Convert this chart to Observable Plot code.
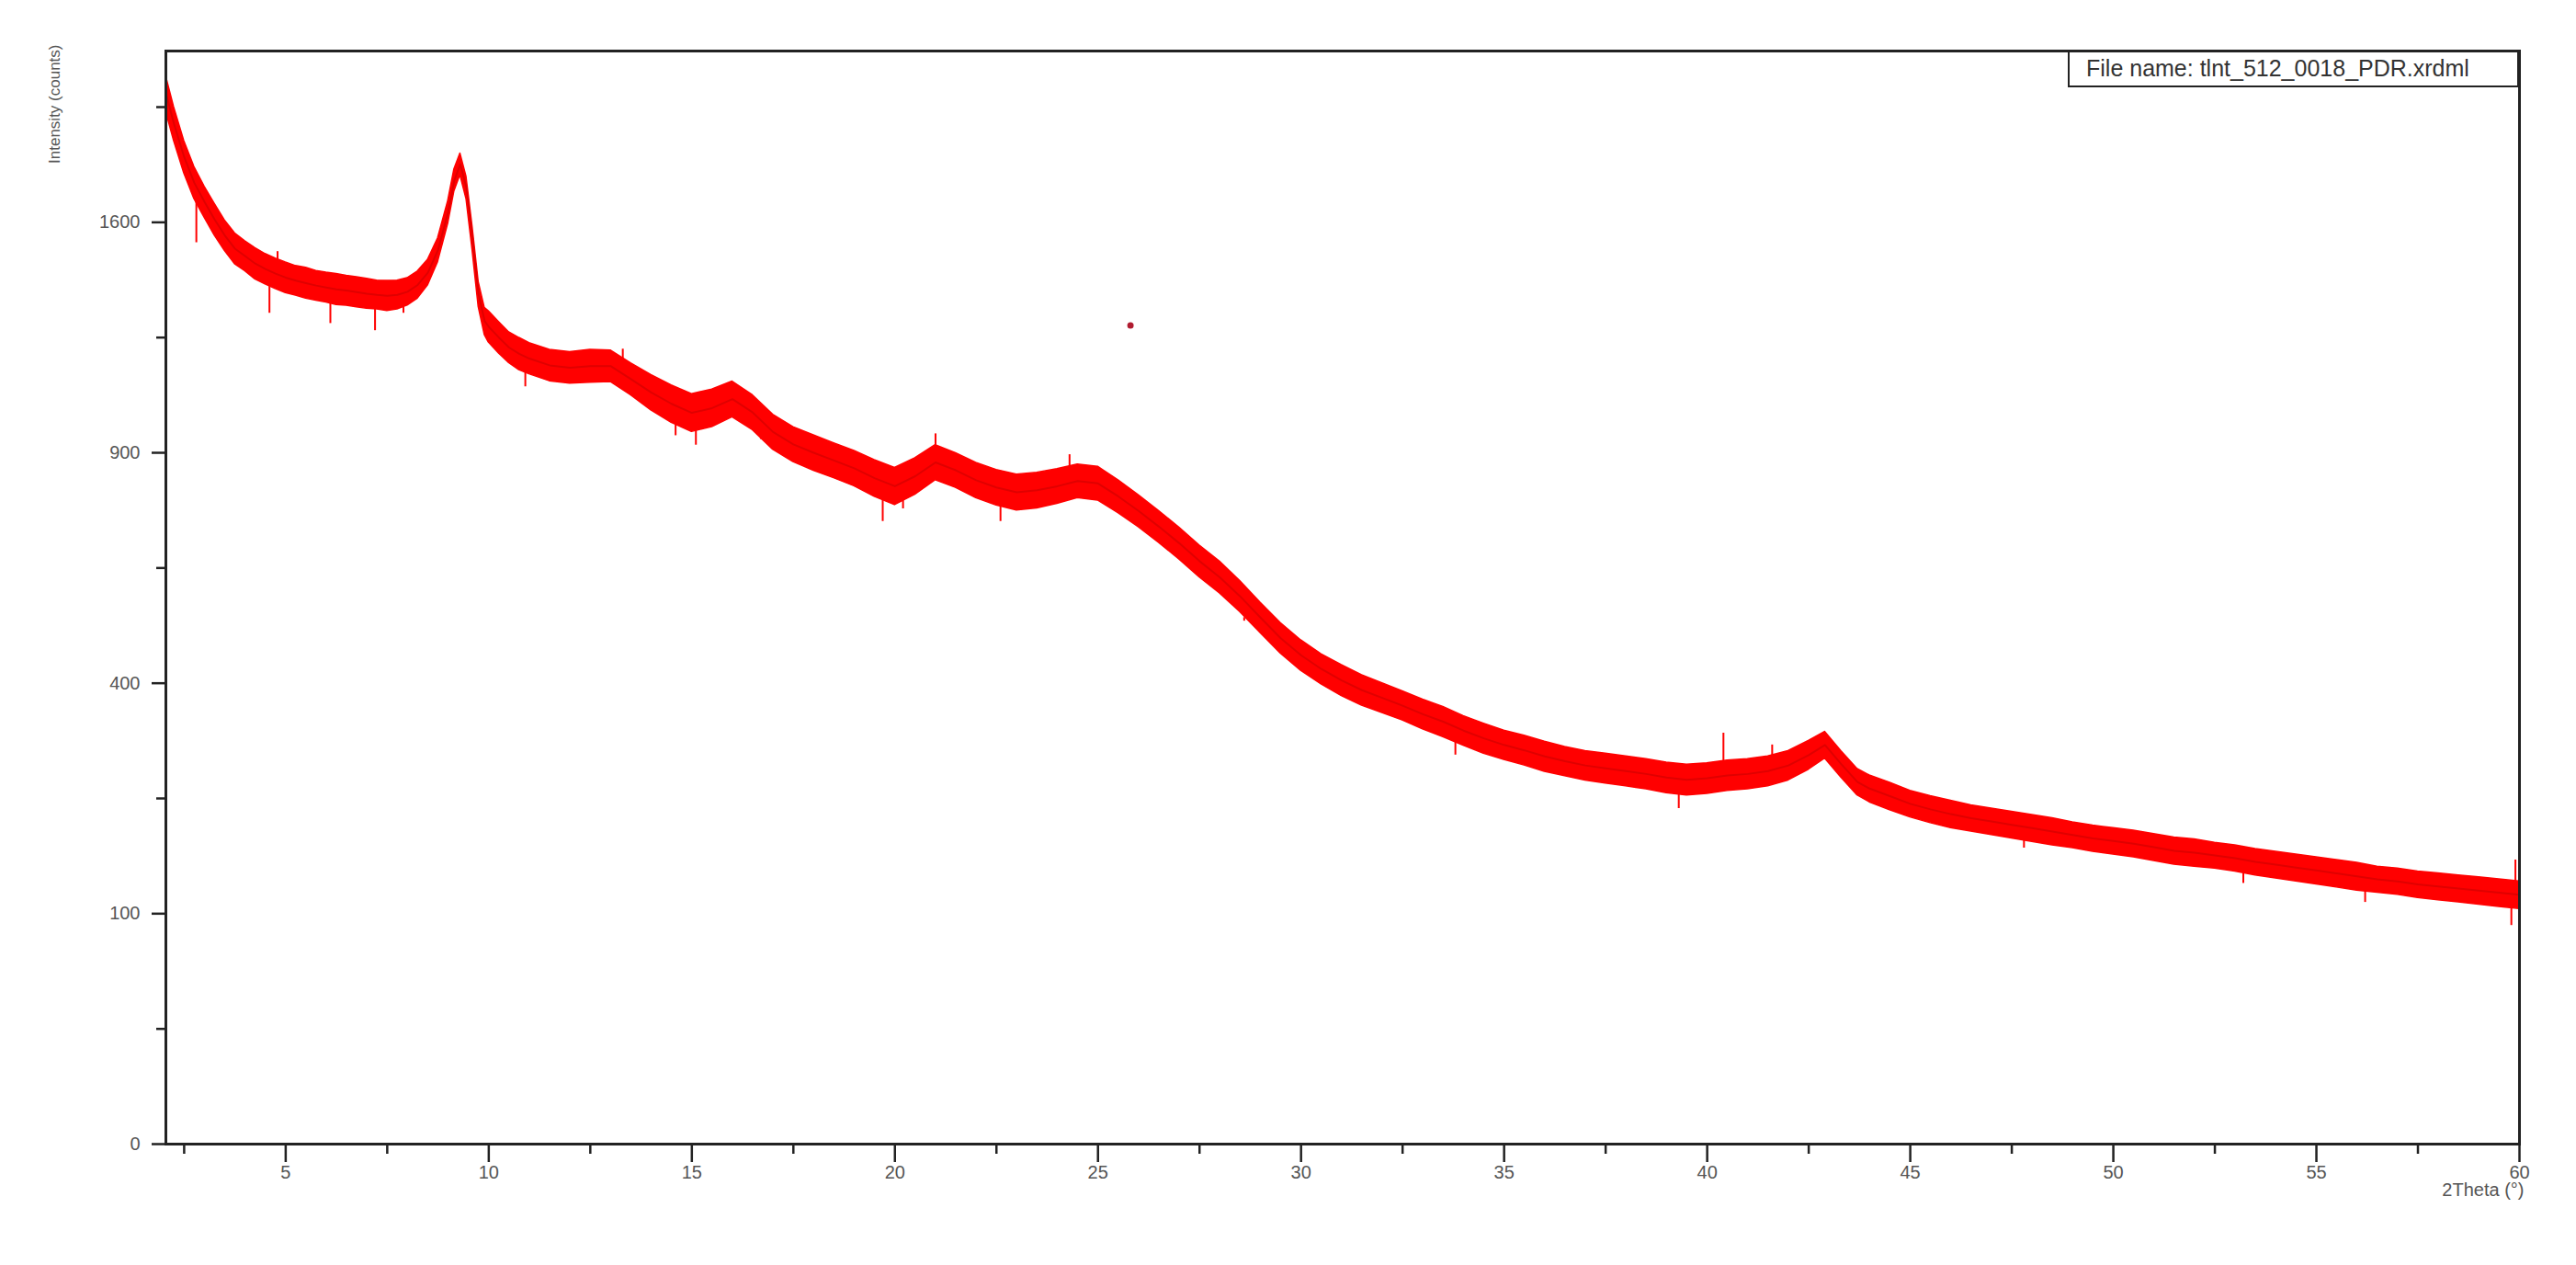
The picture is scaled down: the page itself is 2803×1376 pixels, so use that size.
<!DOCTYPE html>
<html>
<head>
<meta charset="utf-8">
<script src="https://cdn.jsdelivr.net/npm/d3@7"></script>
<script src="https://cdn.jsdelivr.net/npm/@observablehq/plot@0.6"></script>
<style>
  html, body { margin: 0; padding: 0; background: #fff; }
  #wrap { position: relative; width: 2803px; height: 1376px; }
  #legend {
    position: absolute; left: 2250px; top: 55px; width: 491px; height: 40px;
    box-sizing: border-box; border: 2.5px solid #222; background: #fff;
    font-family: "Liberation Sans", Arial, sans-serif; font-size: 25px; color: #333;
    line-height: 34px; padding-left: 18px; white-space: nowrap;
  }
</style>
</head>
<body>
<div id="wrap"><div id="legend">File name: tlnt_512_0018_PDR.xrdml</div></div>
<script>
// 2Theta positions (degrees)
const twoTheta = [2.05,2.25,2.5,2.75,3,3.25,3.5,3.75,4,4.25,4.5,4.75,5,5.25,5.5,5.75,6,6.25,6.5,6.75,7,7.25,7.5,7.75,
  8,8.25,8.5,8.75,9,9.15,9.3,9.45,9.6,9.75,9.9,10,10.25,10.5,10.75,11,11.5,12,12.5,13,13.5,14,14.5,
  15,15.5,16,16.5,17,17.5,18,18.5,19,19.5,20,20.5,21,21.5,22,22.5,23,23.5,24,24.5,25,25.5,26,26.5,27,27.5,28,28.5,29,29.5,
  30,30.5,31,31.5,32,32.5,33,33.5,34,34.5,35,35.5,36,36.5,37,37.5,38,38.5,39,39.5,40,40.5,41,41.5,42,42.5,
  42.9,43.3,43.7,
  44,44.5,45,45.5,46,46.5,47,47.5,48,48.5,49,49.5,50,50.5,51,51.5,52,52.5,53,53.5,54,54.5,55,55.5,56,56.5,57,57.5,58,58.5,59,59.5,60];
// mean intensity (counts)
const intensity = [2080,1960,1835,1740,1672,1610,1555,1510,1485,1460,1442,1427,1414,1404,1396,1388,1382,1376,1372,1367,1362,1358,1355,1358,
  1368,1390,1430,1505,1635,1748,1808,1722,1545,1360,1275,1258,1225,1195,1176,1162,1142,1135,1140,1140,1102,1064,1032,
  1007,1020,1045,1008,955,922,900,880,860,835,815,840,875,855,830,812,800,805,815,828,822,790,755,718,680,640,605,565,522,482,
  450,425,405,388,375,362,348,336,322,310,300,292,283,276,270,266,262,258,253,250,252,256,258,262,270,285,
  300,272,247,
  238,228,218,211,205,200,196,192,188,184,180,176,173,170,166,162,160,157,154,150,147,144,141,138,135,132,130,127,125,123,121,119,117];
// half-width of the noise band (counts)
const noise = [70,65,60,58,55,55,52,52,50,52,50,50,50,48,50,48,48,50,48,48,48,46,48,46,
  44,44,42,40,40,40,40,40,40,40,42,48,48,46,48,46,46,46,48,46,46,50,52,
  52,52,50,48,47,46,46,45,45,46,46,46,45,44,44,44,44,44,43,42,42,40,38,37,36,35,34,32,30,29,
  28,27,27,26,25,24,24,24,23,23,22,22,22,21,21,21,21,21,21,21,21,21,21,21,21,21,
  20,19,18,
  18,18,17,17,17,16,16,16,16,16,15,15,15,15,15,15,15,14,14,14,14,14,14,14,14,13,13,13,13,13,13,13,13];
// isolated spikes beyond the band: position, extreme count
const spikeTheta = [2.8, 4.6, 4.8, 6.1, 7.2, 7.9, 10.9, 13.3, 14.6, 15.1, 16.7, 19.7, 20.2, 21.0, 22.6, 24.3, 28.6, 33.8, 39.3, 40.4, 41.6, 47.8, 53.2, 56.2, 59.8, 59.9];
const spikeCounts = [1530, 1300, 1500, 1268, 1246, 1300, 1080, 1190, 945, 920, 935, 730, 760, 950, 730, 895, 515, 285, 212, 318, 300, 165, 128, 110, 90, 152];
// isolated point
const strayTheta = [25.8];
const strayCounts = [1262];

const yMajor = [0, 100, 400, 900, 1600];
const yMinor = [25, 225, 625, 1225, 2025];
const xMajor = [5,10,15,20,25,30,35,40,45,50,55,60];
const xMinor = [2.5,7.5,12.5,17.5,22.5,27.5,32.5,37.5,42.5,47.5,52.5,57.5];

const rows = twoTheta.map((t, i) => ({t, v: intensity[i], lo: intensity[i] - noise[i], hi: intensity[i] + noise[i]}));
const spikes = spikeTheta.map((t, i) => {
  const j = d3.bisectLeft(twoTheta, t);
  const base = intensity[Math.min(j, twoTheta.length - 1)];
  return {t, y1: base, y2: spikeCounts[i]};
});
const stray = strayTheta.map((t, i) => ({t, v: strayCounts[i]}));

const chart = Plot.plot({
  width: 2803, height: 1376,
  marginLeft: 180, marginRight: 62, marginTop: 55, marginBottom: 132,
  style: {fontFamily: "'Liberation Sans', Arial, sans-serif", fontSize: "20px", color: "#555", background: "#fff"},
  x: {domain: [2.05, 60]},
  y: {type: "sqrt", domain: [0, 2250]},
  marks: [
    Plot.areaY(rows, {x: "t", y1: "lo", y2: "hi", fill: "#ff0000", stroke: "#ff0000", strokeWidth: 1.5}),
    Plot.ruleX(spikes, {x: "t", y1: "y1", y2: "y2", stroke: "#ff0000", strokeWidth: 2}),
    Plot.lineY(rows, {x: "t", y: "v", stroke: "#e00000", strokeWidth: 2}),
    Plot.dot(stray, {x: "t", y: "v", r: 3.5, fill: "#b01c30"}),
    Plot.axisY(yMajor, {tickSize: 15, tickPadding: 13, tickFormat: d => String(d), label: null, stroke: "#222", strokeWidth: 2.5, fill: "#555"}),
    Plot.axisY(yMinor, {tickSize: 10, tickFormat: () => "", label: null, stroke: "#222", strokeWidth: 2.5}),
    Plot.axisX(xMajor, {tickSize: 20, tickPadding: 3, tickFormat: d => String(d), label: null, stroke: "#222", strokeWidth: 2.5, fill: "#555"}),
    Plot.axisX(xMinor, {tickSize: 11, tickFormat: () => "", label: null, stroke: "#222", strokeWidth: 2.5}),
    Plot.frame({stroke: "#222", strokeWidth: 3}),
    Plot.text(["2Theta (°)"], {frameAnchor: "bottom-right", textAnchor: "end", dx: 5, dy: 56, fill: "#555", fontSize: 20}),
    Plot.text(["Intensity (counts)"], {frameAnchor: "top-left", rotate: -90, textAnchor: "end", dx: -128, dy: -7, fill: "#555", fontSize: 17})
  ]
});
document.getElementById("wrap").prepend(chart);
chart.style.position = "absolute";
chart.style.left = "0px";
chart.style.top = "0px";
</script>
</body>
</html>
